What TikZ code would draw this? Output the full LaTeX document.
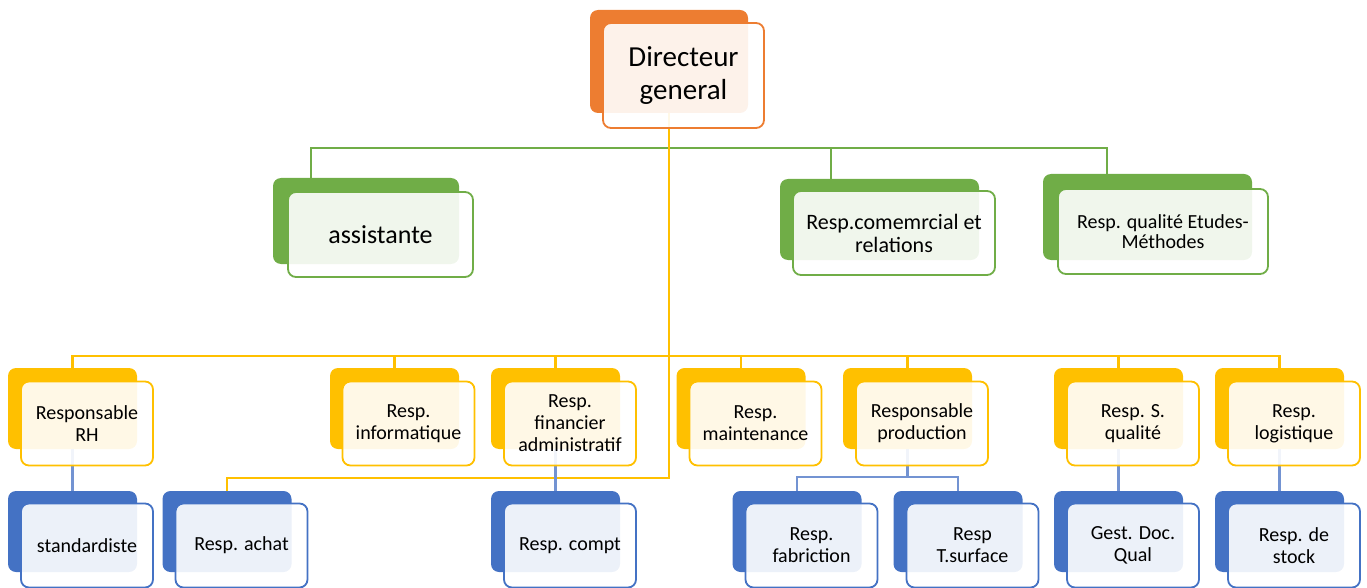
\documentclass[tikz,border=0pt]{standalone}
\usepackage{fontspec}
\setmainfont{Carlito}
\usetikzlibrary{positioning,calc}

\definecolor{dgorange}{HTML}{ED7D31}
\definecolor{dggreen}{HTML}{70AD47}
\definecolor{dgyellow}{HTML}{FFC000}
\definecolor{dgblue}{HTML}{4472C4}
\definecolor{dglink}{HTML}{7393D2}

\begin{document}
\begin{tikzpicture}[x=1pt,y=-1pt,
  back/.style={rounded corners=8pt, fill=#1, inner sep=0pt, minimum width=129pt, minimum height=81pt},
  front/.style={rounded corners=8pt, draw=#1, line width=1.8pt, fill=white, fill opacity=0.9, text opacity=1,
    inner sep=0pt, minimum width=132pt, minimum height=84pt, align=center, font=\fontsize{20}{22}\selectfont},
  link/.style={draw=#1, line width=2.4pt}]
\useasboundingbox (0,0) rectangle (1367,588);

% back plates
\node[back=dgorange, minimum width=158pt, minimum height=103pt] (dgb) at (669,61.5) {};
\node[back=dggreen, minimum width=186pt, minimum height=86pt] (astb) at (366,221) {};
\node[back=dggreen, minimum width=199pt, minimum height=81pt] (comb) at (879.5,219.5) {};
\node[back=dggreen, minimum width=209pt, minimum height=86pt] (qemb) at (1147.5,217) {};

\node[back=dgyellow] (rhb) at (72.5,408.5) {};
\node[back=dgyellow] (infb) at (394.5,408.5) {};
\node[back=dgyellow] (finb) at (555.5,408.5) {};
\node[back=dgyellow] (mntb) at (741,408.5) {};
\node[back=dgyellow] (prdb) at (907.5,408.5) {};
\node[back=dgyellow] (sqb) at (1118.5,408.5) {};
\node[back=dgyellow] (lgb) at (1279.5,408.5) {};

\node[back=dgblue] (stdb) at (72.5,531.5) {};
\node[back=dgblue] (achb) at (227,531.5) {};
\node[back=dgblue] (cptb) at (555.5,531.5) {};
\node[back=dgblue] (fabb) at (797,531.5) {};
\node[back=dgblue] (tsfb) at (958,531.5) {};
\node[back=dgblue] (gdqb) at (1118.5,531.5) {};
\node[back=dgblue] (stkb) at (1279.5,531.5) {};

% connectors
\coordinate (gl) at (311,148);
\coordinate (gm) at (831,148);
\coordinate (gr) at (1107,148);
\coordinate (ybar) at (0,356);
\coordinate (trunk) at (669,478);
\coordinate (pbar) at (0,477);

\draw[link=dggreen] (gl |- astb.north) -- (gl) -- (gr) -- (gr |- qemb.north);
\draw[link=dggreen] (gm) -- (gm |- comb.north);

\draw[link=dgyellow] (rhb.north) |- (ybar -| lgb.north) -- (lgb.north);
\foreach \n in {infb,finb,mntb,prdb,sqb}
  \draw[link=dgyellow] (\n.north) -- (\n.north |- ybar);
\draw[link=dgyellow] (dgb.south) -- (trunk) -| (achb.north);

\draw[link=dglink] (rhb.south) -- (stdb.north);
\draw[link=dglink] (finb.south) -- (cptb.north);
\draw[link=dglink] (sqb.south) -- (gdqb.north);
\draw[link=dglink] (lgb.south) -- (stkb.north);
\draw[link=dglink] (prdb.south) -- (prdb.south |- pbar);
\draw[link=dglink] (fabb.north) |- (pbar -| tsfb.north) -- (tsfb.north);

% front cards
\node[front=dgorange, minimum width=161pt, minimum height=105pt, font=\fontsize{29}{33}\selectfont] (dg) at (683.5,75.5) {Directeur\\general};
\node[front=dggreen, minimum width=185pt, minimum height=85pt, font=\fontsize{26}{30}\selectfont] (ast) at (380.5,234.5) {assistante};
\node[front=dggreen, minimum width=202pt, minimum height=84pt, font=\fontsize{22}{23}\selectfont] (com) at (894,233) {Resp.comemrcial et\\relations};
\node[front=dggreen, minimum width=210pt, minimum height=85pt, font=\fontsize{20}{20}\selectfont] (qem) at (1163,231.5) {Resp. qualité Etudes-\\Méthodes};

\node[front=dgyellow] (rh) at (87,423.5) {Responsable\\RH};
\node[front=dgyellow] (inf) at (408.5,423.5) {Resp.\\informatique};
\node[front=dgyellow] (fin) at (570,423.5) {Resp.\\financier\\administratif};
\node[front=dgyellow] (mnt) at (755.5,423.5) {Resp.\\maintenance};
\node[front=dgyellow] (prd) at (922,423.5) {Responsable\\production};
\node[front=dgyellow] (sq) at (1133,423.5) {Resp. S.\\qualité};
\node[front=dgyellow] (lg) at (1294,423.5) {Resp.\\logistique};

\node[front=dgblue] (std) at (87,545.5) {standardiste};
\node[front=dgblue] (ach) at (241.5,545.5) {Resp. achat};
\node[front=dgblue] (cpt) at (570,545.5) {Resp. compt};
\node[front=dgblue] (fab) at (811.5,545.5) {Resp.\\fabriction};
\node[front=dgblue] (tsf) at (972.5,545.5) {Resp\\T.surface};
\node[front=dgblue] (gdq) at (1133,545.5) {Gest. Doc.\\Qual};
\node[front=dgblue] (stk) at (1294,545.5) {Resp. de\\stock};
\end{tikzpicture}
\end{document}
